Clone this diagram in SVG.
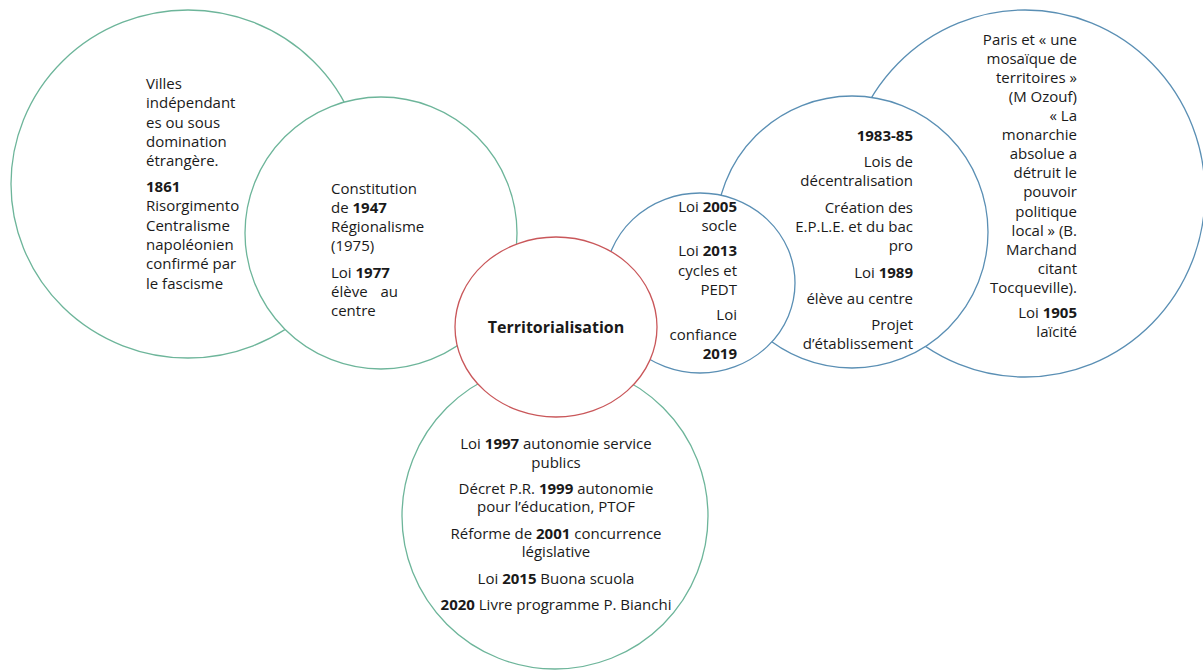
<svg xmlns="http://www.w3.org/2000/svg" width="1203" height="672" viewBox="0 0 1203 672">
<style>
.c{fill:#fff;stroke-width:1.3}
.g{stroke:#6DB59A}
.b{stroke:#5A8FB4}
.r{stroke:#C9575A}
text{font-family:"Open Sans","Noto Sans",sans-serif;font-size:15px;fill:#1a1a1a}
.bd{font-weight:bold}
.t{font-size:16px}
.e{text-anchor:end}
.m{text-anchor:middle}
</style>
<rect width="1203" height="672" fill="#fff"/>
<g id="node-italie-villes">
<ellipse class="c g" cx="188" cy="184" rx="177" ry="174"/>
<text x="146" y="89">Villes</text>
<text x="146" y="108.3">indépendant</text>
<text x="146" y="127.6">es ou sous</text>
<text x="146" y="146.9">domination</text>
<text x="146" y="166.2">étrangère.</text>
<text x="146" y="192" class="bd">1861</text>
<text x="146" y="211.3">Risorgimento</text>
<text x="146" y="230.6">Centralisme</text>
<text x="146" y="249.9">napoléonien</text>
<text x="146" y="269.2">confirmé par</text>
<text x="146" y="288.5">le fascisme</text>
</g>
<g id="node-italie-constitution">
<circle class="c g" cx="381" cy="233" r="136"/>
<text x="331" y="194">Constitution</text>
<text x="331" y="213">de <tspan class="bd">1947</tspan></text>
<text x="331" y="232">Régionalisme</text>
<text x="331" y="251">(1975)</text>
<text x="331" y="277.7">Loi <tspan class="bd">1977</tspan></text>
<text x="331" y="296.7">élève</text>
<text x="398" y="296.7" class="e">au</text>
<text x="331" y="315.7">centre</text>
</g>
<g id="node-italie-autonomie">
<circle class="c g" cx="555" cy="516" r="153"/>
<text x="556" y="449" class="m">Loi <tspan class="bd">1997</tspan> autonomie service</text>
<text x="556" y="467.5" class="m">publics</text>
<text x="556" y="493.5" class="m">Décret P.R. <tspan class="bd">1999</tspan> autonomie</text>
<text x="556" y="512" class="m">pour l’éducation, PTOF</text>
<text x="556" y="538.5" class="m">Réforme de <tspan class="bd">2001</tspan>  concurrence</text>
<text x="556" y="557" class="m">législative</text>
<text x="556" y="583.5" class="m">Loi <tspan class="bd">2015</tspan> Buona scuola</text>
<text x="556" y="609.5" class="m"><tspan class="bd">2020</tspan> Livre programme P. Bianchi</text>
</g>
<g id="node-france-paris">
<ellipse class="c b" cx="1025" cy="193.5" rx="180" ry="183.5"/>
<text x="1077" y="45" class="e">Paris et « une</text>
<text x="1077" y="64" class="e">mosaïque de</text>
<text x="1077" y="83.1" class="e">territoires »</text>
<text x="1077" y="102.2" class="e">(M Ozouf)</text>
<text x="1077" y="121.2" class="e">« La</text>
<text x="1077" y="140.3" class="e">monarchie</text>
<text x="1077" y="159.3" class="e">absolue a</text>
<text x="1077" y="178.4" class="e">détruit le</text>
<text x="1077" y="197.4" class="e">pouvoir</text>
<text x="1077" y="216.5" class="e">politique</text>
<text x="1077" y="235.5" class="e">local » (B.</text>
<text x="1077" y="254.6" class="e">Marchand</text>
<text x="1077" y="273.6" class="e">citant</text>
<text x="1077" y="292.7" class="e">Tocqueville).</text>
<text x="1077" y="318.3" class="e">Loi <tspan class="bd">1905</tspan></text>
<text x="1077" y="337.4" class="e">laïcité</text>
</g>
<g id="node-france-decentralisation">
<circle class="c b" cx="852" cy="232" r="136"/>
<text x="913" y="141" class="e bd">1983-85</text>
<text x="913" y="167" class="e">Lois de</text>
<text x="913" y="186" class="e">décentralisation</text>
<text x="913" y="212.5" class="e">Création des</text>
<text x="913" y="232" class="e">E.P.L.E. et du bac</text>
<text x="913" y="251" class="e">pro</text>
<text x="913" y="277.5" class="e">Loi <tspan class="bd">1989</tspan></text>
<text x="913" y="303.5" class="e">élève au centre</text>
<text x="913" y="329.5" class="e">Projet</text>
<text x="913" y="349" class="e">d’établissement</text>
</g>
<g id="node-france-lois">
<ellipse class="c b" cx="700" cy="283" rx="95" ry="90"/>
<text x="737" y="212" class="e">Loi <tspan class="bd">2005</tspan></text>
<text x="737" y="231" class="e">socle</text>
<text x="737" y="256" class="e">Loi <tspan class="bd">2013</tspan></text>
<text x="737" y="275.5" class="e">cycles et</text>
<text x="737" y="295" class="e">PEDT</text>
<text x="737" y="320" class="e">Loi</text>
<text x="737" y="339.5" class="e">confiance</text>
<text x="737" y="359" class="e bd">2019</text>
</g>
<g id="node-territorialisation">
<ellipse class="c r" cx="556" cy="327" rx="101" ry="90"/>
<text x="556" y="332.5" class="m bd t">Territorialisation</text>
</g>
<g id="connectors"/>
</svg>
